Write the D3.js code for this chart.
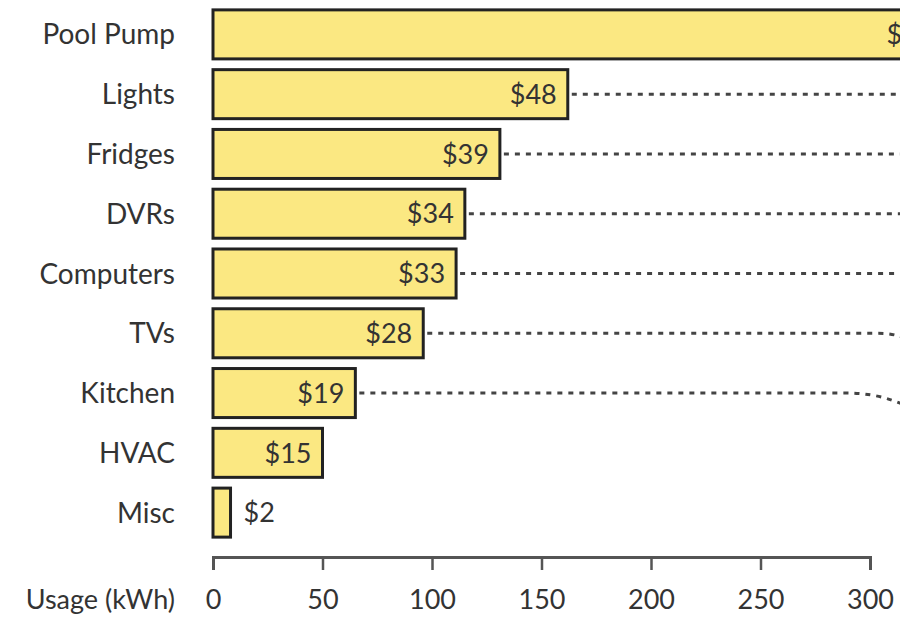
<!DOCTYPE html>
<html>
<head>
<meta charset="utf-8">
<script src="https://cdn.jsdelivr.net/npm/d3@7"></script>
<style>
  body { margin: 0; background: #fff; }
  svg { display: block; font-family: Lato, "Noto Sans", sans-serif; }
</style>
</head>
<body>
<div id="chart-wrapper"></div>
<script>
// values
const categories = ["Pool Pump", "Lights", "Fridges", "DVRs", "Computers", "TVs", "Kitchen", "HVAC", "Misc"];
const usageKwh = [334, 162, 131, 115, 111, 96, 65, 50, 8];
const costLabels = ["$99", "$48", "$39", "$34", "$33", "$28", "$19", "$15", "$2"];
const xTicks = [0, 50, 100, 150, 200, 250, 300];
const axisTitle = "Usage (kWh)";

// dotted connectors that run off to the right, some bending down near the edge
const linked = ["Lights", "Fridges", "DVRs", "Computers", "TVs", "Kitchen"];
const bends = {
  TVs: { at: 878, span: 22, drop: 6 },
  Kitchen: { at: 845, span: 55, drop: 20 },
};

const dimensions = { width: 900, height: 623 };
const rows = categories.map((c, i) => ({ name: c, value: usageKwh[i], cost: costLabels[i] }));

const svg = d3.select("#chart-wrapper")
  .append("svg")
  .attr("width", dimensions.width)
  .attr("height", dimensions.height);

const xScale = d3.scaleLinear().domain([0, 300]).range([213, 870]);
const yScale = d3.scaleBand()
  .domain(categories)
  .range([4.5, 542.5])
  .paddingInner(0.18)
  .paddingOuter(0.09);

// connectors first so the bars sit on top
const linksWrapper = svg.append("g").classed("links", true);
linksWrapper.selectAll("path")
  .data(rows.filter(d => linked.includes(d.name)))
  .join("path")
  .attr("d", d => {
    const y = yScale(d.name) + yScale.bandwidth() / 2;
    const x0 = xScale(d.value) + 4;
    const p = d3.path();
    p.moveTo(x0, y);
    const b = bends[d.name];
    if (b) {
      p.lineTo(b.at, y);
      p.bezierCurveTo(b.at + b.span, y, b.at + b.span, y + b.drop, b.at + 2 * b.span, y + b.drop);
    } else {
      p.lineTo(dimensions.width + 20, y);
    }
    return p.toString();
  })
  .attr("fill", "none")
  .attr("stroke", "#444")
  .attr("stroke-width", 3)
  .attr("stroke-dasharray", "5,6");

const barsWrapper = svg.append("g").classed("bars", true);
barsWrapper.selectAll("rect")
  .data(rows)
  .join("rect")
  .attr("x", xScale(0))
  .attr("y", d => yScale(d.name))
  .attr("width", d => xScale(d.value) - xScale(0))
  .attr("height", yScale.bandwidth())
  .attr("fill", "#fbe882")
  .attr("stroke", "#222")
  .attr("stroke-width", 3);

// cost labels: inside the bar, or just past it when the bar is too short
const inside = d => xScale(d.value) - xScale(0) > 50;
barsWrapper.selectAll("text")
  .data(rows)
  .join("text")
  .attr("x", d => inside(d) ? xScale(d.value) - 11 : xScale(d.value) + 13)
  .attr("y", d => yScale(d.name) + yScale.bandwidth() / 2)
  .attr("dy", "0.36em")
  .attr("text-anchor", d => inside(d) ? "end" : "start")
  .attr("fill", "#333")
  .style("font-size", "27px")
  .text(d => d.cost);

// category labels
svg.append("g").classed("labels", true)
  .selectAll("text")
  .data(rows)
  .join("text")
  .attr("x", 175)
  .attr("y", d => yScale(d.name) + yScale.bandwidth() / 2)
  .attr("dy", "0.36em")
  .attr("text-anchor", "end")
  .attr("fill", "#333")
  .style("font-size", "28px")
  .text(d => d.name);

// x axis
const xAxis = svg.append("g")
  .attr("transform", "translate(0,557)")
  .call(d3.axisBottom(xScale).tickValues(xTicks).tickSize(13).tickSizeOuter(13));
xAxis.select(".domain").attr("stroke", "#555").attr("stroke-width", 3);
xAxis.selectAll(".tick line").attr("stroke", "#555").attr("stroke-width", 2.5);
xAxis.selectAll(".tick text")
  .attr("y", 52)
  .attr("dy", null)
  .attr("fill", "#333")
  .style("font-size", "27px")
  .style("font-family", "Lato, 'Noto Sans', sans-serif");

svg.append("text")
  .attr("x", 175)
  .attr("y", 609)
  .attr("text-anchor", "end")
  .attr("fill", "#333")
  .style("font-size", "27px")
  .text(axisTitle);
</script>
</body>
</html>
